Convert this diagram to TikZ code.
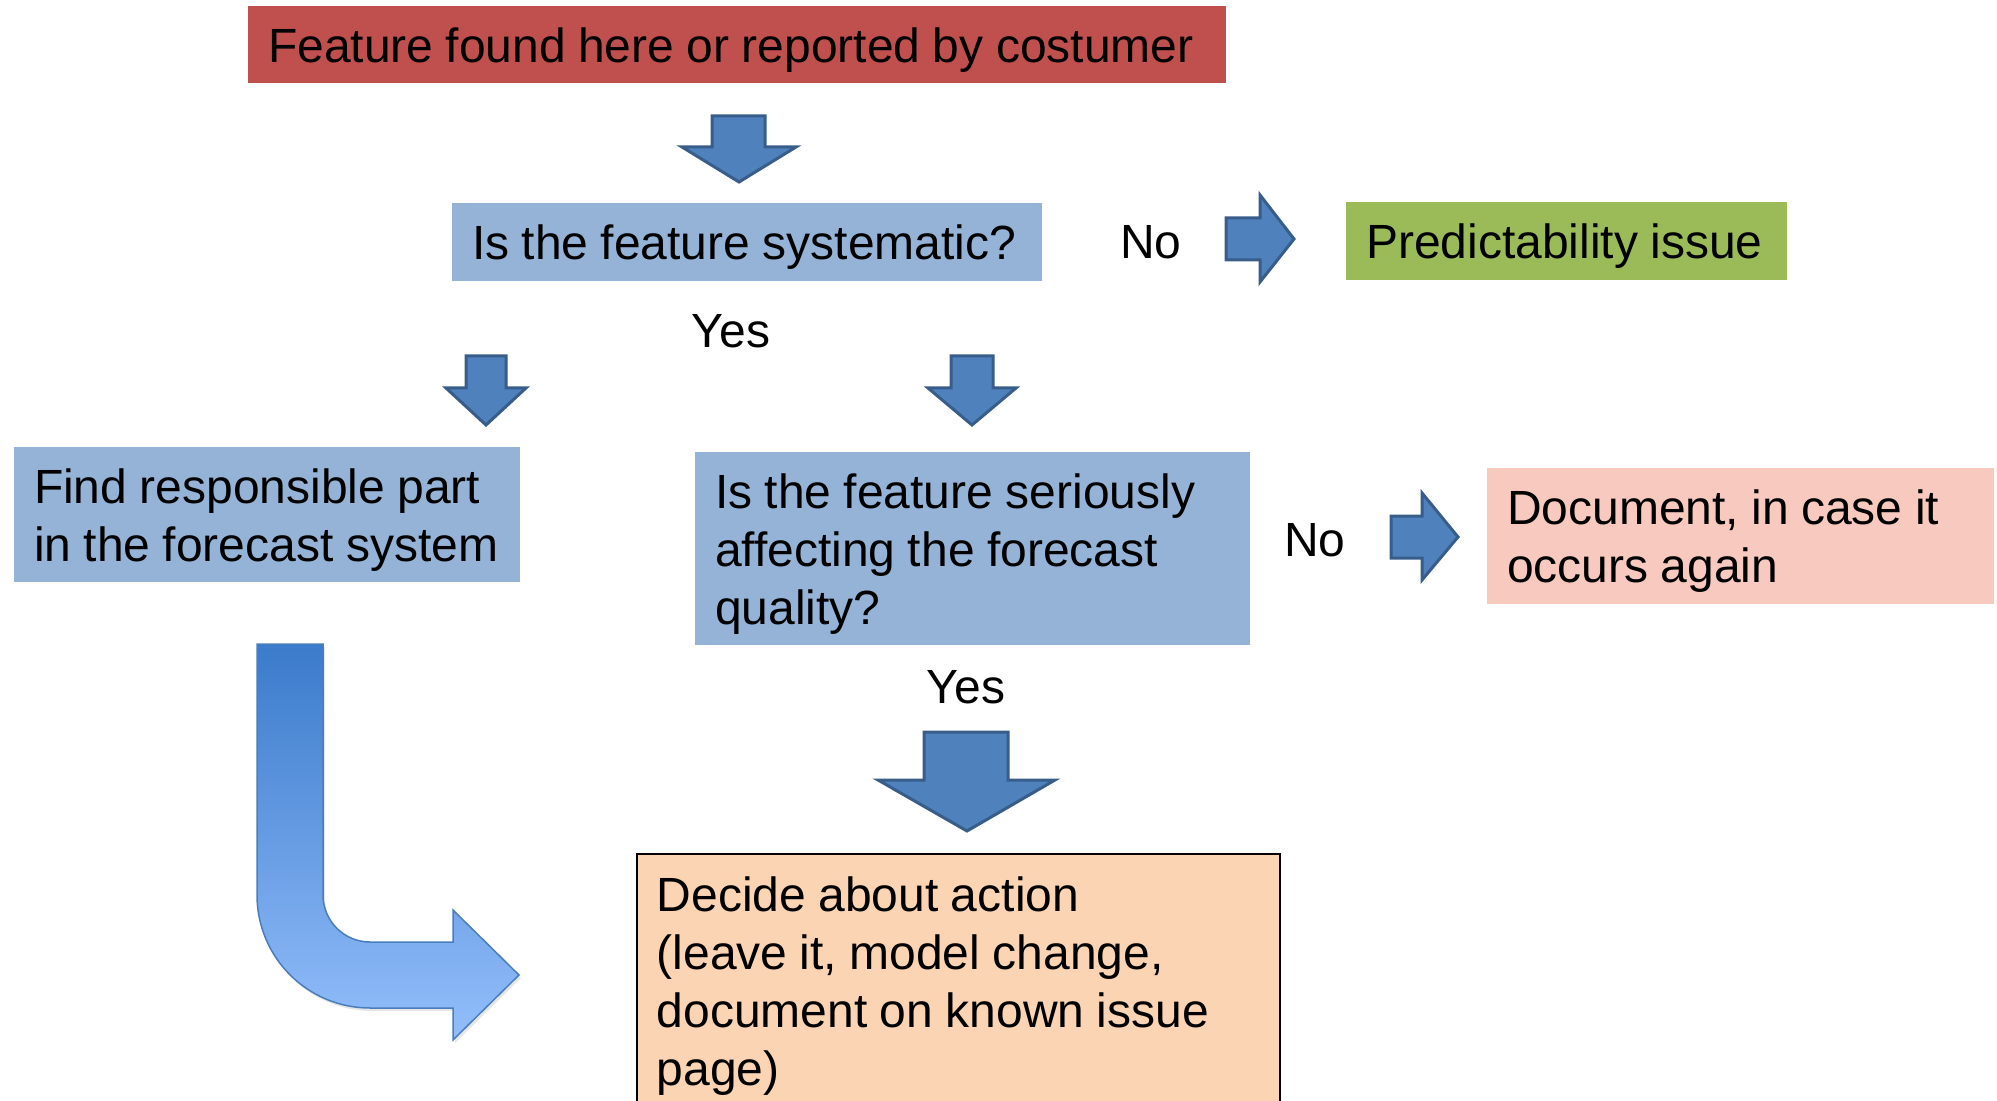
\documentclass[tikz,border=0pt]{standalone}
\usepackage{fontspec}
\setmainfont{Liberation Sans}
\usetikzlibrary{shadows}
\definecolor{featred}{HTML}{C0504D}
\definecolor{askblue}{HTML}{95B3D7}
\definecolor{predgreen}{HTML}{9BBB59}
\definecolor{docpink}{HTML}{F8C9BE}
\definecolor{actpeach}{HTML}{FBD4B4}
\definecolor{arrowfill}{HTML}{4F81BD}
\definecolor{arrowline}{HTML}{385D8A}
\definecolor{bendtop}{HTML}{3B7BCB}
\definecolor{bendbot}{HTML}{93BEFB}
\definecolor{bendline}{HTML}{4A7DBB}
\begin{document}
\begin{tikzpicture}
    [x=0.5pt,y=-0.5pt,
     box/.style={rectangle,inner xsep=10pt,inner ysep=0pt,text height=22.5pt,
       font=\fontsize{24}{29}\selectfont,
       execute at begin node={\spaceskip=6.2pt plus 2pt minus 1pt\relax}},
     lbl/.style={inner sep=0pt,font=\fontsize{24}{29}\selectfont},
     blk/.style={fill=arrowfill,draw=arrowline,line width=1.5pt}]
    \useasboundingbox (0,0) rectangle (1997,1101);
    % boxes
    \node [box,fill=featred,minimum width=489pt,minimum height=38.5pt,
      text width=469pt] (feat) at (737,44.5)
      {Feature found here or reported by costumer};
    \node [box,fill=askblue,minimum width=295pt,minimum height=39pt,
      text width=275pt] (syst) at (747,242) {Is the feature systematic?};
    \node [box,fill=predgreen,minimum width=220.5pt,minimum height=39pt,
      text width=200.5pt] (pred) at (1566.5,241) {Predictability issue};
    \node [box,fill=askblue,minimum width=253pt,minimum height=67.5pt,
      text width=233pt] (resp) at (267,514.5)
      {Find responsible part\\in the forecast system};
    \node [box,fill=askblue,minimum width=277.5pt,minimum height=96.5pt,
      text width=257.5pt] (serious) at (972.5,548.5)
      {Is the feature seriously\\affecting the forecast\\quality?};
    \node [box,fill=docpink,minimum width=253.5pt,minimum height=68pt,
      text width=233.5pt] (docu) at (1740.5,536)
      {Document, in case it\\occurs again};
    \node [box,fill=actpeach,draw=black,line width=0.75pt,inner ysep=6.5pt,
      text width=301.5pt,anchor=north west] (act) at (636,853)
      {Decide about action\\(leave it, model change,\\document on known issue\\page)};
    % answers
    \node [lbl] (no1) at (1151,242) {No};
    \node [lbl] (yes1) at (731,331) {Yes};
    \node [lbl] (no2) at (1315,540) {No};
    \node [lbl] (yes2) at (966,687) {Yes};
    % block arrows
    \draw [blk] (712,116) -- (765,116) -- (765,147) -- (796,147) -- (739,182)
      -- (682,147) -- (712,147) -- cycle;
    \draw [blk] (1226,218) -- (1260,218) -- (1260,195) -- (1294,239)
      -- (1260,282) -- (1260,260) -- (1226,260) -- cycle;
    \draw [blk] (466,356) -- (506,356) -- (506,388) -- (526,388) -- (486,425)
      -- (446,388) -- (466,388) -- cycle;
    \draw [blk] (951,356) -- (993,356) -- (993,388) -- (1016,388) -- (972,425)
      -- (928,388) -- (951,388) -- cycle;
    \draw [blk] (1391,516) -- (1422,516) -- (1422,493) -- (1458,537)
      -- (1422,580) -- (1422,558) -- (1391,558) -- cycle;
    \draw [blk] (924,732) -- (1008,732) -- (1008,780) -- (1055,780) -- (967,831)
      -- (878,780) -- (924,780) -- cycle;
    % bent arrow
    \shade [top color=bendtop,bottom color=bendbot,draw=bendline,line width=0.75pt,
      drop shadow={opacity=0.2,shadow xshift=1pt,shadow yshift=-1.5pt}]
      (257,644) -- (323,644) -- (323,895)
      arc [start angle=180,end angle=90,radius=47]
      -- (453,942) -- (453,910) -- (519,975) -- (453,1040) -- (453,1008)
      -- (370,1008) arc [start angle=90,end angle=180,radius=113] -- cycle;
\end{tikzpicture}
\end{document}
